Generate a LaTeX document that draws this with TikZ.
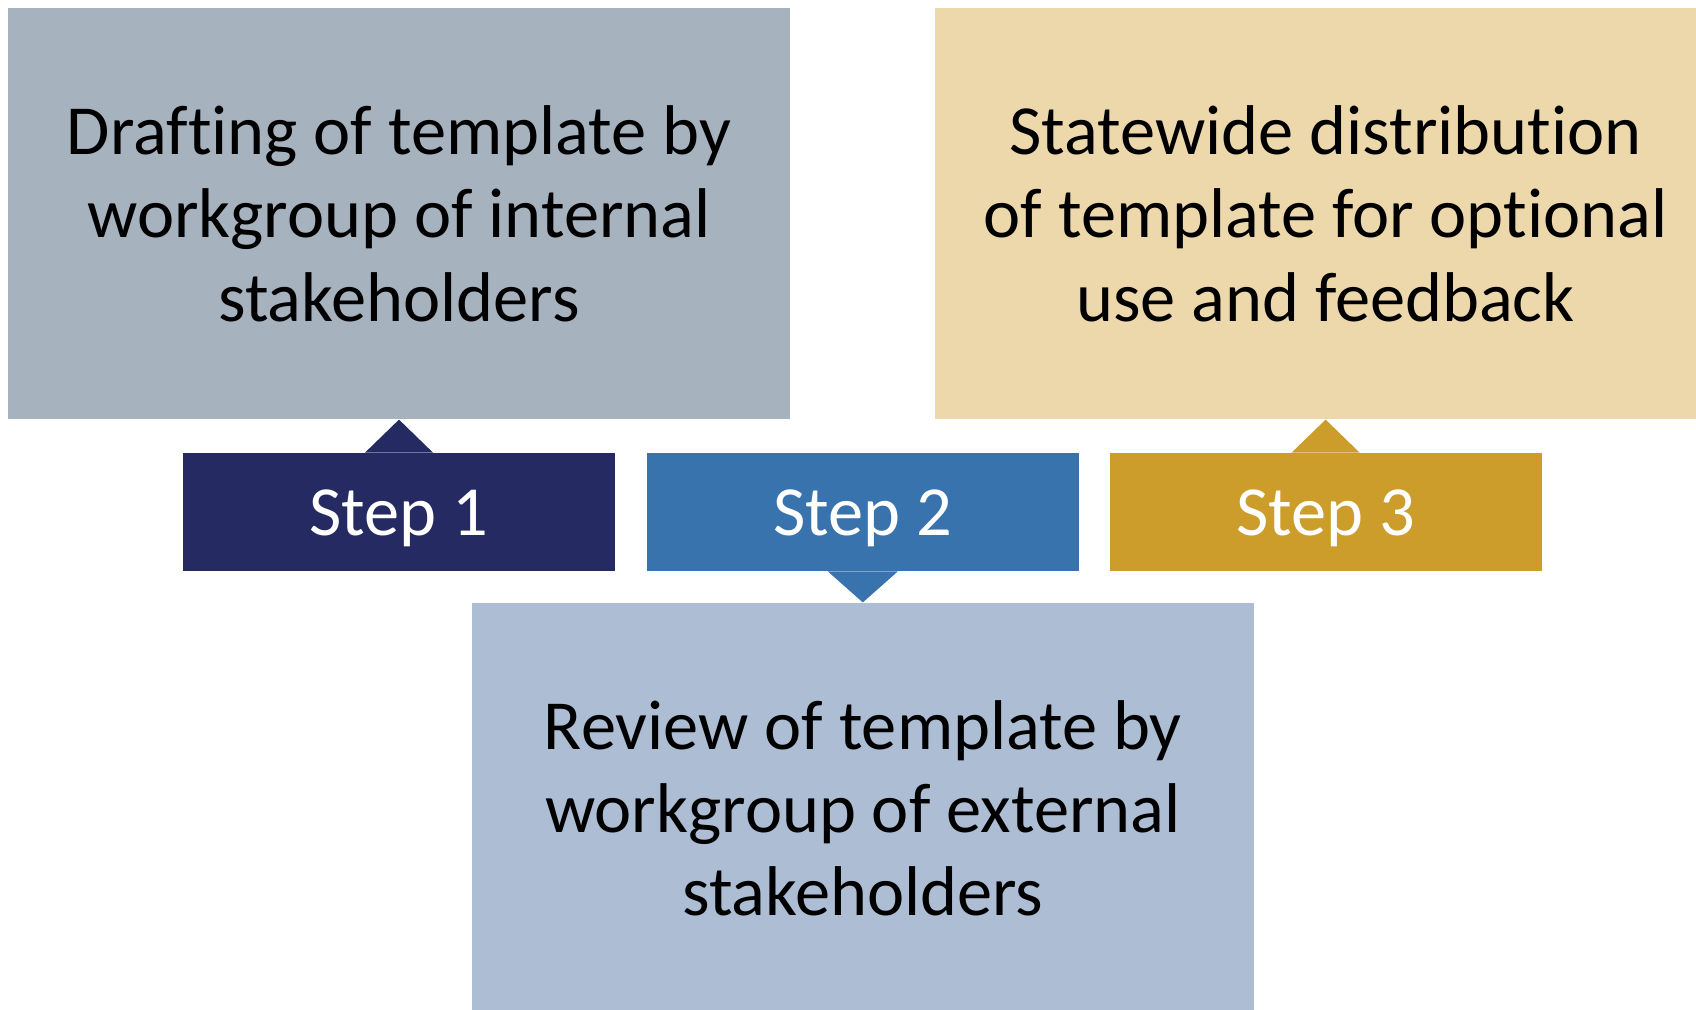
\documentclass[tikz,border=0pt]{standalone}
\usepackage{fontspec}
\setmainfont{Carlito}[Ligatures={NoCommon,NoContextual}]
\usetikzlibrary{positioning,calc}
\definecolor{draftgrey}{HTML}{A7B2BF}
\definecolor{reviewblue}{HTML}{ADBED4}
\definecolor{statetan}{HTML}{EDD8AC}
\definecolor{stepnavy}{HTML}{262A62}
\definecolor{stepblue}{HTML}{3973AE}
\definecolor{stepgold}{HTML}{CC9D2B}
\begin{document}
\begin{tikzpicture}[every node/.style={font=\fontsize{35.2}{41.6}\selectfont,align=center,inner sep=0pt},
   stepbox/.style={minimum width=216pt,minimum height=59pt,text height=30pt,text depth=7pt,text=white},
   textbox/.style={minimum width=391pt,minimum height=205.5pt,text=black}]
\useasboundingbox (0,0) rectangle (848pt,-504.5pt);
\clip (0,0) rectangle (848pt,-504.5pt);
% steps
\node[stepbox,fill=stepnavy] (step1) at (199.5pt,-256pt) {Step 1};
\node[stepbox,fill=stepblue,right=15.5pt of step1] (step2) {Step 2};
\node[stepbox,fill=stepgold,right=15pt of step2] (step3) {Step 3};
% boxes
\node[textbox,fill=draftgrey,above=16.5pt of step1] (draft) {Drafting of template by\\ workgroup of internal\\ stakeholders};
\node[textbox,fill=reviewblue,below=15.5pt of step2] (review) {Review of template by\\ workgroup of external\\ stakeholders};
\node[textbox,fill=statetan,above=16.5pt of step3] (statewide) {Statewide distribution\\ of template for optional\\ use and feedback};
% pointers
\fill[stepnavy] ($(step1.north)+(-17pt,0)$) -- (draft.south) -- ($(step1.north)+(17pt,0)$) -- cycle;
\fill[stepblue] ($(step2.south)+(-17.5pt,0)$) -- (review.north) -- ($(step2.south)+(17.5pt,0)$) -- cycle;
\fill[stepgold] ($(step3.north)+(-17pt,0)$) -- (statewide.south) -- ($(step3.north)+(17pt,0)$) -- cycle;
\end{tikzpicture}
\end{document}
